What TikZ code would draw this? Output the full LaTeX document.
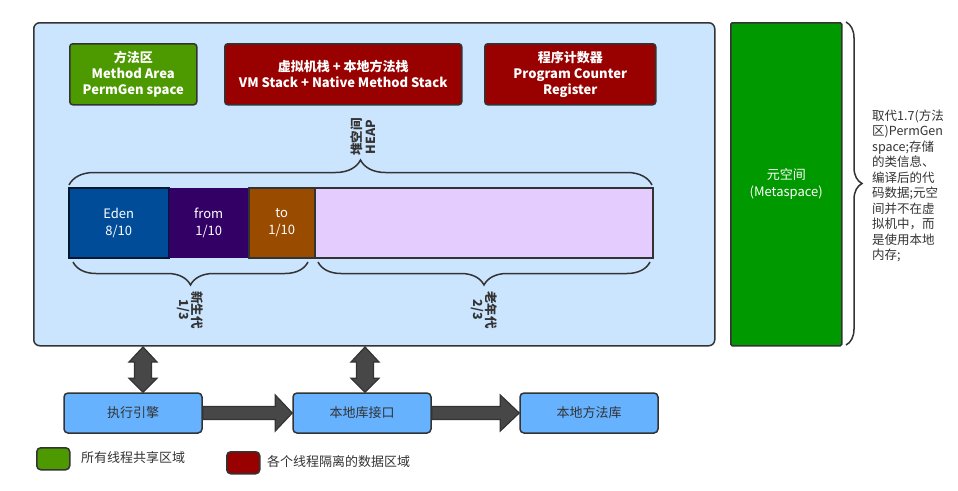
\documentclass[tikz,border=0pt]{standalone}
\usepackage{fontspec}
\setmainfont{Noto Sans CJK SC}
\usetikzlibrary{decorations.pathreplacing,calc}
\definecolor{bgblue}{HTML}{CCE5FF}
\definecolor{edge}{HTML}{333333}
\definecolor{mgreen}{HTML}{4D9900}
\definecolor{mred}{HTML}{990000}
\definecolor{metagreen}{HTML}{009900}
\definecolor{edenc}{HTML}{004C99}
\definecolor{edenedge}{HTML}{001933}
\definecolor{fromc}{HTML}{330066}
\definecolor{toc}{HTML}{994C00}
\definecolor{oldc}{HTML}{E5CCFF}
\definecolor{btnblue}{HTML}{66B2FF}
\definecolor{arrowc}{HTML}{474747}
\definecolor{txt}{HTML}{333333}
\tikzset{
  box/.style={draw=edge, line width=1.5pt, rounded corners=3pt, inner sep=0pt, anchor=north west, align=center},
  topbox/.style={box, text=white, font=\bfseries\fontsize{13}{16}\selectfont},
  heapbox/.style={inner sep=0pt, anchor=north west, align=center, text=white, line width=1.5pt, minimum height=70pt, font=\fontsize{13}{17}\selectfont},
  btn/.style={draw=edge, line width=1.5pt, rounded corners=4pt, fill=btnblue, text=txt, minimum width=138pt, minimum height=40pt, font=\fontsize{13}{16}\selectfont},
  legbox/.style={draw=edge, line width=1.5pt, rounded corners=4pt, anchor=north west, minimum width=33pt, minimum height=22pt, inner sep=0pt},
  legtxt/.style={anchor=west, text=txt, inner sep=0pt, font=\fontsize{13}{16}\selectfont},
  bracestyle/.style={draw=edge, line width=1.5pt, decorate},
  vlabel/.style={align=center, text=txt, font=\bfseries\fontsize{12.5}{13.5}\selectfont, inner sep=0pt},
  blk/.style={draw=edge, line width=1.2pt, fill=arrowc, line join=miter},
}
\begin{document}
\begin{tikzpicture}[x=1pt,y=-1pt]
\useasboundingbox (0,0) rectangle (958,490);
% outer JVM box
\node[box, fill=bgblue, rounded corners=6pt, minimum width=681pt, minimum height=323pt] (jvm) at (33,22) {};
% top boxes
\node[topbox, fill=mgreen, minimum width=127pt, minimum height=61pt] (ma) at (69,43) {方法区\\Method Area\\PermGen space};
\node[topbox, fill=mred, minimum width=237pt, minimum height=61pt] (vms) at (224,43) {虚拟机栈 + 本地方法栈\\VM Stack + Native Method Stack};
\node[topbox, fill=mred, minimum width=171pt, minimum height=61pt] (pc) at (484,43) {程序计数器\\Program Counter\\Register};
% metaspace
\node[box, fill=metagreen, rounded corners=1.5pt, minimum width=111pt, minimum height=323pt, text=white, font=\fontsize{13}{17}\selectfont] (meta) at (730,22) {元空间\\(Metaspace)};
% heap bar
\node[heapbox, fill=edenc, draw=edenedge, minimum width=100pt] (eden) at (68,187) {Eden\\8/10};
\node[heapbox, fill=fromc, minimum width=80pt] (from) at (168,187) {from\\1/10};
\node[heapbox, fill=toc, draw=edge, minimum width=66pt] (to) at (248,187) {to\\1/10};
\node[heapbox, fill=oldc, draw=edge, minimum width=338pt] (old) at (314,187) {};
% braces
\draw[bracestyle, decoration={brace, amplitude=25pt}] (69,185) -- (652,185);
\node[vlabel, rotate=90] (heaplbl) at (363,137) {堆空间\\HEAP};
\draw[bracestyle, decoration={brace, amplitude=23pt}] (308,262) -- (73,262);
\node[vlabel, rotate=-90] (younglbl) at (190,310) {新生代\\1/3};
\draw[bracestyle, decoration={brace, amplitude=23pt}] (650,262) -- (318,262);
\node[vlabel, rotate=-90] (oldlbl) at (484,310) {老年代\\2/3};
\draw[bracestyle, decoration={brace, amplitude=16pt}] (846,22) -- (846,345);
\node[anchor=west, align=left, text=txt, inner sep=0pt, font=\fontsize{12.5}{15.5}\selectfont] (note) at (872,186) {取代1.7(方法\\区)PermGen\\space;存储\\的类信息、\\编译后的代\\码数据;元空\\间并不在虚\\拟机中，而\\是使用本地\\内存;};
% bottom boxes
\node[btn] (eng) at (133,413) {执行引擎};
\node[btn] (lib) at (362,413) {本地库接口};
\node[btn] (nlib) at (589,413) {本地方法库};
% vertical double arrows
\coordinate (t1) at (143,347);
\coordinate (b1) at (t1 |- eng.north);
\coordinate (t2) at (365,347);
\coordinate (b2) at (t2 |- lib.north);
\foreach \t/\b in {t1/b1,t2/b2}{
  \draw[blk] (\t) -- ($(\t)+(14,15)$) -- ($(\t)+(8.5,15)$) -- ($(\b)+(8.5,-14)$) -- ($(\b)+(14,-14)$) -- (\b) -- ($(\b)+(-14,-14)$) -- ($(\b)+(-8.5,-14)$) -- ($(\t)+(-8.5,15)$) -- ($(\t)+(-14,15)$) -- cycle;
}
% horizontal block arrows
\draw[blk] ($(eng.east)+(0,-6.5)$) -- ($(lib.west)+(-17,-6.5)$) -- ($(lib.west)+(-17,-18)$) -- (lib.west) -- ($(lib.west)+(-17,18)$) -- ($(lib.west)+(-17,6.5)$) -- ($(eng.east)+(0,6.5)$) -- cycle;
\draw[blk] ($(lib.east)+(0,-6.5)$) -- ($(nlib.west)+(-19,-6.5)$) -- ($(nlib.west)+(-19,-18)$) -- (nlib.west) -- ($(nlib.west)+(-19,18)$) -- ($(nlib.west)+(-19,6.5)$) -- ($(lib.east)+(0,6.5)$) -- cycle;
% legend
\node[legbox, fill=mgreen] (lg1) at (36,447) {};
\node[legtxt] (lt1) at (81,458) {所有线程共享区域};
\node[legbox, fill=mred] (lg2) at (226,451) {};
\node[legtxt] (lt2) at (267,462) {各个线程隔离的数据区域};
\end{tikzpicture}
\end{document}
